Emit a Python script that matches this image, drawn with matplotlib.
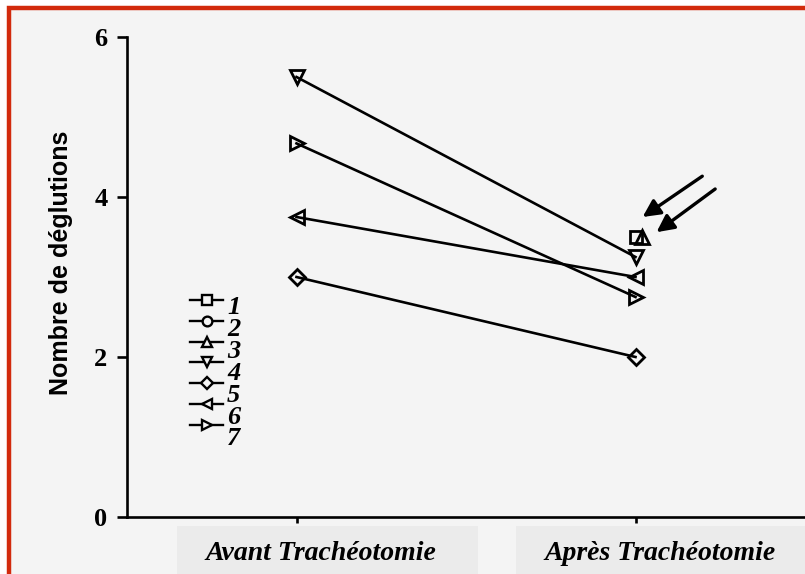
import numpy as np
import matplotlib
matplotlib.use('Agg')
import matplotlib.pyplot as plt
from matplotlib.patches import Rectangle
from matplotlib.transforms import blended_transform_factory

nan = np.nan

# swallow counts before / after tracheotomy, one list per patient
categories = ['Avant Trachéotomie', 'Après Trachéotomie']
patient_ids = ['1', '2', '3', '4', '5', '6', '7']
p1 = [nan, 3.5]
p2 = [nan, nan]
p3 = [nan, 3.5]
p4 = [5.5, 3.25]
p5 = [3.0, 2.0]
p6 = [3.75, 3.0]
p7 = [4.67, 2.75]
series = [p1, p2, p3, p4, p5, p6, p7]
yticks = [0, 2, 4, 6]

markers = ['s', 'o', '^', 'v', 'D', '<', '>']
msizes = [9, 9, 10, 10, 8, 10, 10]
xshift = [0, 0, 0.02, 0, 0, 0, 0]

red = '#d22a0c'
bg = '#f4f4f4'

fig = plt.figure(figsize=(8.05, 5.74), dpi=100)
fig.patch.set_facecolor('white')
# panel with red frame (open on right and bottom)
fig.patches.append(Rectangle((9 / 805, -0.2), 1.2, 1.2 - 8 / 574,
                             transform=fig.transFigure, facecolor=bg,
                             edgecolor=red, linewidth=3.2, zorder=-10))

ax = fig.add_axes([127 / 805, 57 / 574, 678 / 805, 480 / 574])
ax.set_facecolor('none')

x = np.arange(len(categories))
for vals, m, ms, dx in zip(series, markers, msizes, xshift):
    ax.plot(x + np.array([0, dx]), vals, color='black', lw=1.9,
            marker=m, markersize=ms, markerfacecolor='none',
            markeredgecolor='black', markeredgewidth=2.0, clip_on=False)

# arrows pointing at the overlapping post-op markers
arrow = dict(arrowstyle='-|>', lw=2.4, color='black',
             mutation_scale=26, shrinkA=0, shrinkB=0)
ax.annotate('', xy=(1.021, 3.75), xytext=(1.197, 4.26), arrowprops=arrow)
ax.annotate('', xy=(1.062, 3.56), xytext=(1.235, 4.1), arrowprops=arrow)

ax.set_xlim(-0.5, 1.5)
ax.set_ylim(0, 6)
ax.set_yticks(yticks)
ax.set_yticklabels([str(t) for t in yticks], fontfamily='Liberation Serif',
                   fontweight='bold', fontsize=19)
ax.set_xticks(x)
ax.set_xticklabels([])
ax.tick_params(axis='y', direction='out', length=7, width=1.9, pad=7)
ax.tick_params(axis='x', direction='out', length=4, width=1.9)
for s in ['top', 'right']:
    ax.spines[s].set_visible(False)
for s in ['left', 'bottom']:
    ax.spines[s].set_linewidth(1.9)
ax.set_ylabel('Nombre de déglutions', fontfamily='Liberation Sans',
              fontweight='bold', fontsize=18)
ax.yaxis.set_label_coords(-0.08, 0.53)

# category labels in grey boxes under the axis
tb = blended_transform_factory(ax.transData, ax.transAxes)
for xi, cat in zip(x, categories):
    ax.add_patch(Rectangle((xi - 0.353, -0.3), 0.888, 0.3 - 9 / 480,
                           transform=tb, facecolor='#ebebeb',
                           edgecolor='none', clip_on=False, zorder=-5))
    ax.text(xi + 0.072, -36 / 480, cat, transform=tb, ha='center',
            va='center', fontfamily='Liberation Serif', fontweight='bold',
            fontstyle='italic', fontsize=20)

# hand-placed key in the lower left
for i, (pid, m) in enumerate(zip(patient_ids, markers)):
    yr = (517 - (300 + 20.8 * i)) / 480
    ax.plot([63 / 678, 96 / 678], [yr, yr], transform=ax.transAxes,
            color='black', lw=1.7, clip_on=False)
    ax.plot([79.5 / 678], [yr], transform=ax.transAxes, marker=m,
            markersize=7 if m != 'D' else 6, markerfacecolor=bg,
            markeredgecolor='black', markeredgewidth=1.7, clip_on=False)
    ax.text(100 / 678, (517 - (308 + 21.8 * i)) / 480, pid,
            transform=ax.transAxes, ha='left', va='center',
            fontfamily='Liberation Serif', fontweight='bold',
            fontstyle='italic', fontsize=19)

fig.savefig('out.png', dpi=100, facecolor=fig.get_facecolor())
